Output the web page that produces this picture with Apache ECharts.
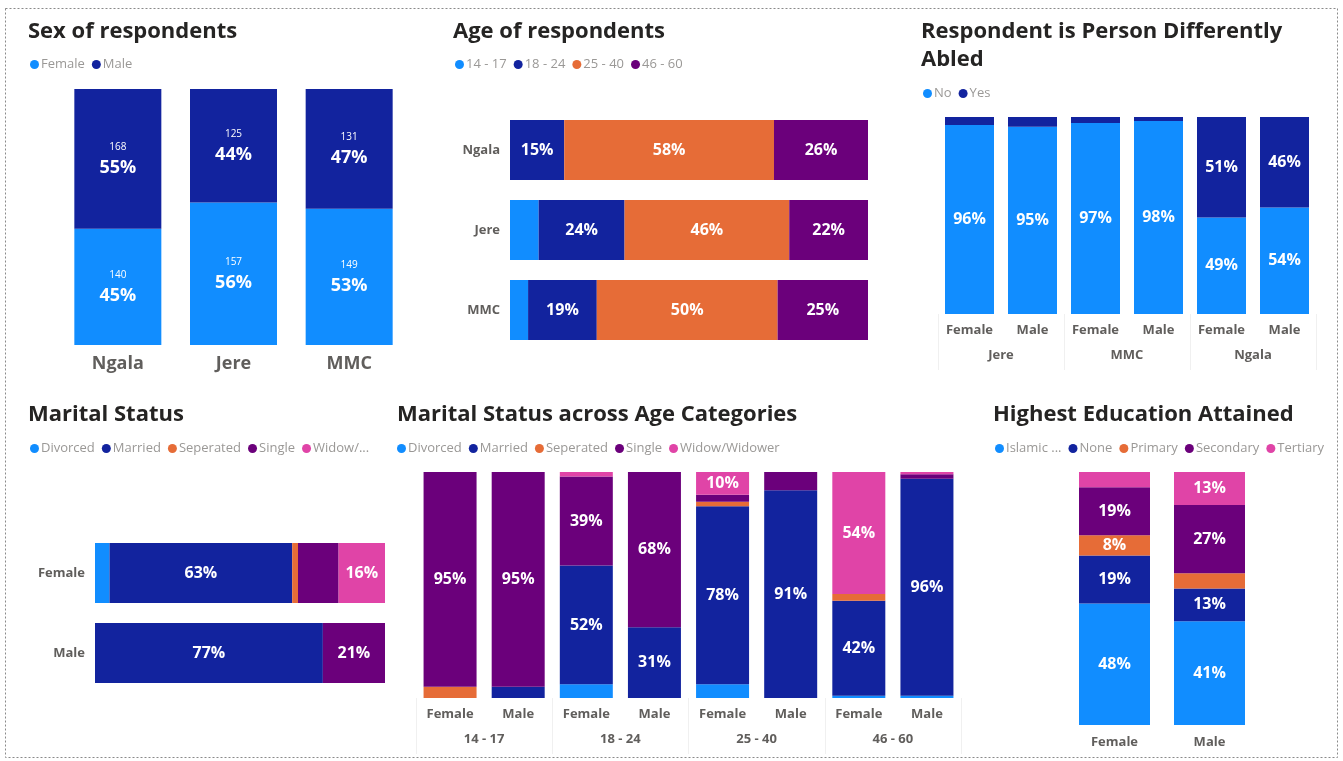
<!DOCTYPE html>
<html><head><meta charset="utf-8">
<script src="https://cdn.jsdelivr.net/npm/echarts@6/dist/echarts.min.js"></script>
<style>html,body{margin:0;padding:0;background:#fff}#c{width:1343px;height:761px}</style>
</head><body><div id="c"></div>
<script>
// ---------- DATA ----------
// Sex of respondents (counts)
const sexCats = ['Ngala', 'Jere', 'MMC'];
const sexFemale = [140, 157, 149];
const sexMale = [168, 125, 131];

// Age of respondents (%)
const ageCats = ['Ngala', 'Jere', 'MMC'];
const ageNames = ['14 - 17', '18 - 24', '25 - 40', '46 - 60'];
const age1417 = [0, 8, 5];
const age1824 = [15, 24, 19];
const age2540 = [58, 46, 50];
const age4660 = [26, 22, 25];

// Respondent is Person Differently Abled (%)
const disCats = ['Female', 'Male', 'Female', 'Male', 'Female', 'Male'];
const disGroups = ['Jere', 'MMC', 'Ngala'];
const disNames = ['No', 'Yes'];
const disNo = [96, 95, 97, 98, 49, 54];
const disYes = [4, 5, 3, 2, 51, 46];

// Marital Status (%)
const marCats = ['Female', 'Male'];
const marNames = ['Divorced', 'Married', 'Seperated', 'Single', 'Widow/Widower'];
const marDivorced = [5, 0];
const marMarried = [63, 77];
const marSeparated = [2, 0];
const marSingle = [14, 21];
const marWidow = [16, 0];

// Marital Status across Age Categories (%)
const magCats = ['Female', 'Male', 'Female', 'Male', 'Female', 'Male', 'Female', 'Male'];
const magGroups = ['14 - 17', '18 - 24', '25 - 40', '46 - 60'];
const magDivorced = [0, 0, 6, 0, 6, 0, 1, 1];
const magMarried = [0, 5, 52, 31, 78, 91, 42, 96];
const magSeparated = [5, 0, 0, 0, 2, 0, 3, 0];
const magSingle = [95, 95, 39, 68, 3, 8, 0, 2];
const magWidow = [0, 0, 2, 0, 10, 0, 54, 1];

// Highest Education Attained (%)
const eduCats = ['Female', 'Male'];
const eduNames = ['Islamic Education', 'None', 'Primary', 'Secondary', 'Tertiary'];
const eduIslamic = [48, 41];
const eduNone = [19, 13];
const eduPrimary = [8, 6];
const eduSecondary = [19, 27];
const eduTertiary = [6, 13];

// ---------- STYLE ----------
const C = ['#118DFF', '#12239E', '#E66C37', '#6B007B', '#E044A7'];
const TF = 'Open Sans';
const LF = 'Open Sans';
const AX = '#605E5C';

function stackSeries(o) {
  const n = o.arrays[0].length;
  const totals = [];
  for (let i = 0; i < n; i++) { let s = 0; o.arrays.forEach(a => s += a[i]); totals.push(s); }
  return o.names.map((name, k) => ({
    type: 'bar', name, stack: o.stack, xAxisIndex: o.xi, yAxisIndex: o.yi,
    barWidth: o.barWidth, itemStyle: { color: o.colors[k] },
    data: o.arrays[k].map((v, i) => totals[i] ? v / totals[i] * 100 : 0),
    label: {
      show: true, position: 'inside', color: '#fff', fontFamily: LF, fontWeight: 'bold', fontSize: o.fontSize,
      formatter: p => o.arrays[k][p.dataIndex] >= o.thr ? Math.round(o.arrays[k][p.dataIndex]) + '%' : ''
    },
    emphasis: { disabled: true }
  }));
}

function title(text, left, top) {
  return { text, left, top, padding: 0, textStyle: { fontFamily: TF, fontWeight: 'bold', fontSize: 22, color: '#252423', lineHeight: 28 } };
}
function legend(data, left, top, fmt) {
  return {
    data, left, top, padding: 0, icon: 'circle', itemWidth: 9, itemHeight: 9, itemGap: 7,
    textStyle: { fontFamily: LF, fontSize: 13, color: '#9a9896', padding: [0, 0, 0, -3] },
    formatter: fmt || (n => n), selectedMode: false
  };
}
const valAxis = (gi) => ({ type: 'value', gridIndex: gi, min: 0, max: 100, show: false });
const catAxis = (gi, data, extra) => Object.assign({
  type: 'category', gridIndex: gi, data,
  axisLine: { show: false }, axisTick: { show: false },
  axisLabel: { color: AX, fontFamily: LF, fontWeight: 'bold', fontSize: 13, interval: 0, margin: 10 }
}, extra || {});
const groupAxis = (gi, data) => ({
  type: 'category', gridIndex: gi, data, position: 'bottom',
  axisLine: { show: false },
  axisTick: { show: true, length: 56, alignWithLabel: false, interval: 0, lineStyle: { color: '#f0f0f0' } },
  axisLabel: { color: AX, fontFamily: LF, fontWeight: 'bold', fontSize: 13, interval: 0, margin: 35 }
});

// totals for sex chart
const sexTotals = sexFemale.map((v, i) => v + sexMale[i]);
function sexSeries(name, arr, color) {
  return {
    type: 'bar', name, stack: 'sex', xAxisIndex: 0, yAxisIndex: 0, barWidth: 87,
    itemStyle: { color },
    data: arr.map((v, i) => v / sexTotals[i] * 100),
    label: {
      show: true, position: 'inside', color: '#fff',
      formatter: p => '{n|' + arr[p.dataIndex] + '}\n{p|' + Math.round(arr[p.dataIndex] / sexTotals[p.dataIndex] * 100) + '%}',
      rich: {
        n: { fontFamily: LF, fontSize: 10, color: '#fff', lineHeight: 18 },
        p: { fontFamily: LF, fontSize: 18, fontWeight: 'bold', color: '#fff', lineHeight: 24 }
      }
    },
    emphasis: { disabled: true }
  };
}

const option = {
  animation: false,
  backgroundColor: '#fff',
  graphic: [{
    type: 'rect', shape: { x: 5.5, y: 8.5, width: 1332, height: 749 },
    style: { fill: 'none', stroke: '#8a8a8a', lineWidth: 1, lineDash: [2, 2] }, silent: true
  }],
  title: [
    title('Sex of respondents', 28, 18),
    title('Age of respondents', 453, 18),
    title('Respondent is Person Differently\nAbled', 921, 18),
    title('Marital Status', 28, 401),
    title('Marital Status across Age Categories', 397, 401),
    title('Highest Education Attained', 993, 401)
  ],
  legend: [
    legend(['Female', 'Male'], 30, 58),
    legend(ageNames, 455, 58),
    legend(disNames, 923, 87),
    legend(marNames, 30, 442, n => n === 'Widow/Widower' ? 'Widow/...' : n),
    legend(marNames, 397, 442),
    legend(eduNames, 995, 442, n => n === 'Islamic Education' ? 'Islamic ...' : n)
  ],
  grid: [
    { left: 60, top: 89, width: 347, height: 256 },
    { left: 510, top: 110, width: 358, height: 240 },
    { left: 938, top: 117, width: 378, height: 197 },
    { left: 95, top: 533, width: 290, height: 160 },
    { left: 416, top: 472, width: 545, height: 226 },
    { left: 1067, top: 472, width: 190, height: 253 }
  ],
  xAxis: [
    catAxis(0, sexCats, { axisLabel: { color: AX, fontFamily: LF, fontWeight: 'bold', fontSize: 18, margin: 10 } }),
    valAxis(1),
    catAxis(2, disCats),
    groupAxis(2, disGroups),
    valAxis(3),
    catAxis(4, magCats),
    groupAxis(4, magGroups),
    catAxis(5, eduCats, { axisLabel: { color: AX, fontFamily: LF, fontWeight: 'bold', fontSize: 13, interval: 0, margin: 11 } })
  ],
  yAxis: [
    valAxis(0),
    catAxis(1, ageCats, { inverse: true, axisLabel: { color: AX, fontFamily: LF, fontWeight: 'bold', fontSize: 13, margin: 10 } }),
    valAxis(2),
    catAxis(3, marCats, { inverse: true, axisLabel: { color: AX, fontFamily: LF, fontWeight: 'bold', fontSize: 13, margin: 10 } }),
    valAxis(4),
    valAxis(5)
  ],
  series: [].concat(
    [sexSeries('Female', sexFemale, C[0]), sexSeries('Male', sexMale, C[1])],
    stackSeries({ names: ageNames, arrays: [age1417, age1824, age2540, age4660], colors: [C[0], C[1], C[2], C[3]],
      xi: 1, yi: 1, stack: 'age', barWidth: 60, fontSize: 16, thr: 10 }),
    stackSeries({ names: disNames, arrays: [disNo, disYes], colors: [C[0], C[1]],
      xi: 2, yi: 2, stack: 'dis', barWidth: 49, fontSize: 16, thr: 10 }),
    stackSeries({ names: marNames, arrays: [marDivorced, marMarried, marSeparated, marSingle, marWidow], colors: C,
      xi: 4, yi: 3, stack: 'mar', barWidth: 60, fontSize: 16, thr: 15 }),
    stackSeries({ names: marNames, arrays: [magDivorced, magMarried, magSeparated, magSingle, magWidow], colors: C,
      xi: 5, yi: 4, stack: 'mag', barWidth: 53, fontSize: 16, thr: 10 }),
    stackSeries({ names: eduNames, arrays: [eduIslamic, eduNone, eduPrimary, eduSecondary, eduTertiary], colors: C,
      xi: 7, yi: 5, stack: 'edu', barWidth: 71, fontSize: 16, thr: 7 })
  )
};

const chart = echarts.init(document.getElementById('c'), null, { renderer: 'canvas' });
chart.setOption(option);
</script></body></html>
